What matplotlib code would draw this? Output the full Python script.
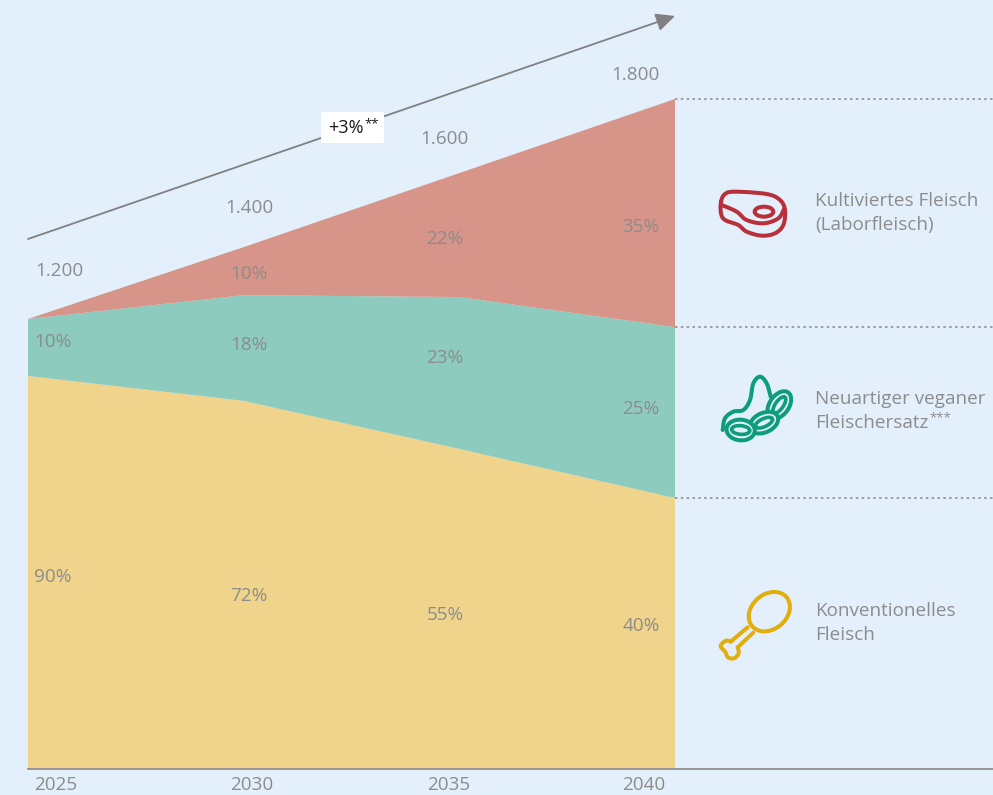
import numpy as np
import matplotlib
matplotlib.use('Agg')
import matplotlib.pyplot as plt
from matplotlib.patches import Ellipse, Rectangle

plt.rcParams['font.family'] = ['Open Sans', 'DejaVu Sans']

# Data
years = [2025, 2030, 2035, 2040]
konventionell = [1056, 989, 860, 728]
vegan = [153, 284, 408, 459]
labor = [0, 129, 333, 613]
totals = ['1.200', '1.400', '1.600', '1.800']
share_kon = ['90%', '72%', '55%', '40%']
share_veg = ['10%', '18%', '23%', '25%']
share_lab = ['10%', '22%', '35%']
legend_lines = ['Kultiviertes Fleisch', '(Laborfleisch)', 'Neuartiger veganer', 'Fleischersatz',
                'Konventionelles', 'Fleisch']

# Colours
bg = '#e3f0fc'
grey = '#8c8c8c'
fills = ['#f0d48c', '#8ccbbd', '#d79488']
red_icon = '#b7303a'
green_icon = '#0d9c7c'
yellow_icon = '#e2ae0c'
W, H = 993, 795

fig = plt.figure(figsize=(W / 100, H / 100), dpi=100, facecolor=bg)

# Chart axes, limits set so the baseline and the plot edges sit where they should
ax = fig.add_axes([0, 0, 1, 1], facecolor=bg)
px_year = 647 / 15
px_unit = 670 / 1800
ax.set_xlim(2025 - 28 / px_year, 2025 + (W - 28) / px_year)
ax.set_ylim(-(H - 769) / px_unit, 769 / px_unit)
ax.stackplot(years, konventionell, vegan, labor, colors=fills, linewidth=0)
ax.axhline(0, xmin=28 / W, color='#8f8f8f', lw=1.3)
ax.set_xticks([])
ax.set_yticks([])
for s in ax.spines.values():
    s.set_visible(False)

# Overlay in pixels for annotation and icons
ov = fig.add_axes([0, 0, 1, 1])
ov.set_xlim(0, W)
ov.set_ylim(H, 0)
ov.axis('off')


def label(x, y, s, **kw):
    kw.setdefault('color', grey)
    kw.setdefault('fontsize', 13.6)
    kw.setdefault('ha', 'center')
    ov.text(x, y, s, va='center', **kw)


# Value labels
year_x = [56, 252, 449, 644]
total_xy = [(59, 270), (249, 207), (445, 138), (636, 74)]
kon_xy = [(53, 576), (249, 595), (445, 614), (641, 625)]
veg_xy = [(53, 341), (249, 344), (445, 357), (641, 408)]
lab_xy = [(249, 273), (445, 238), (641, 226)]
for x, y in zip(year_x, years):
    label(x, 785.5, str(y))
for (x, y), s in zip(total_xy, totals):
    label(x, y + 1, s)
for (x, y), s in zip(kon_xy, share_kon):
    label(x, y + 1, s)
for (x, y), s in zip(veg_xy, share_veg):
    label(x, y + 1, s)
for (x, y), s in zip(lab_xy, share_lab):
    label(x, y + 1, s)

# Trend arrow and its box
ov.annotate('', xy=(675, 16), xytext=(28, 239),
            arrowprops=dict(arrowstyle='-|>,head_length=1.15,head_width=0.55', color='#808080', lw=1.3,
                            shrinkA=0, shrinkB=0))
ov.add_patch(Rectangle((321, 112), 63, 31, fc='white', lw=0, zorder=3))
label(328, 128, '+3%', color='#1a1a1a', fontsize=13, ha='left', zorder=4)
label(364, 124, '**', color='#1a1a1a', fontsize=9.5, ha='left', zorder=4)

# Dotted separators
for y in [99, 327, 498]:
    ov.plot([675, W], [y, y], color='#8f8f8f', lw=1.2, ls=(0, (1.5, 2)))

# Legend text
for y, s in zip([201, 225, 399, 423, 611, 635], legend_lines):
    label(815, y, s, ha='left')
label(929, 418, '***', fontsize=9.5, ha='left')


# Icons, points taken from zoomed crops
def smooth(pts, closed=False, n=12):
    p = np.array(pts, dtype=float)
    if closed:
        p = np.vstack([p[-1], p, p[0], p[1]])
    else:
        p = np.vstack([p[0], p, p[-1]])
    out = []
    t = np.linspace(0, 1, n)[:, None]
    for i in range(1, len(p) - 2):
        a, b, c, d = p[i - 1], p[i], p[i + 1], p[i + 2]
        out.append(0.5 * (2 * b + (c - a) * t + (2 * a - 5 * b + 4 * c - d) * t ** 2
                          + (3 * b - a - 3 * c + d) * t ** 3))
    return np.vstack(out)


def stroke(pts, x0, y0, color, closed=False, lw=2.9):
    c = smooth(pts, closed)
    ov.plot(x0 + c[:, 0] / 3, y0 + c[:, 1] / 3, color=color, lw=lw, solid_capstyle='round')


def ring(cx, cy, w, h, angle, x0, y0, color, fill='none', lw=2.9):
    ov.add_patch(Ellipse((x0 + cx / 3, y0 + cy / 3), w / 3, h / 3, angle=angle, fc=fill, ec=color, lw=lw))


# steak
stroke([(63, 95), (75, 72), (105, 65), (200, 72), (240, 90), (255, 120), (250, 165), (225, 190), (185, 197),
        (140, 185), (115, 165), (75, 150), (63, 130)], 700, 170, red_icon, closed=True)
stroke([(65, 105), (110, 125), (140, 150), (190, 160), (235, 145), (253, 115)], 700, 170, red_icon)
ring(192, 125, 56, 30, 0, 700, 170, red_icon)

# beans
stroke([(68, 780), (75, 745), (100, 725), (130, 720), (150, 690), (160, 640), (180, 620), (200, 640),
        (212, 680)], 700, 170, green_icon)
for cx, cy, w, h, a, iw, ih in [(238, 705, 92, 58, -55, 58, 24), (192, 758, 90, 58, -25, 56, 24),
                                (122, 780, 85, 62, 5, 55, 26)]:
    ring(cx, cy, w, h, a, 700, 170, green_icon, fill=bg, lw=2.9)
    ring(cx, cy, iw, ih, a, 700, 170, green_icon, lw=2.6)

# drumstick
ring(208, 125, 135, 105, -40, 700, 570, yellow_icon)
stroke([(143, 172), (92, 215)], 700, 570, yellow_icon)
stroke([(160, 188), (113, 232)], 700, 570, yellow_icon)
stroke([(92, 215), (78, 212), (62, 228), (76, 246), (84, 262), (102, 265), (116, 250), (113, 232)],
       700, 570, yellow_icon)

fig.savefig('out.png', dpi=100, facecolor=bg)
